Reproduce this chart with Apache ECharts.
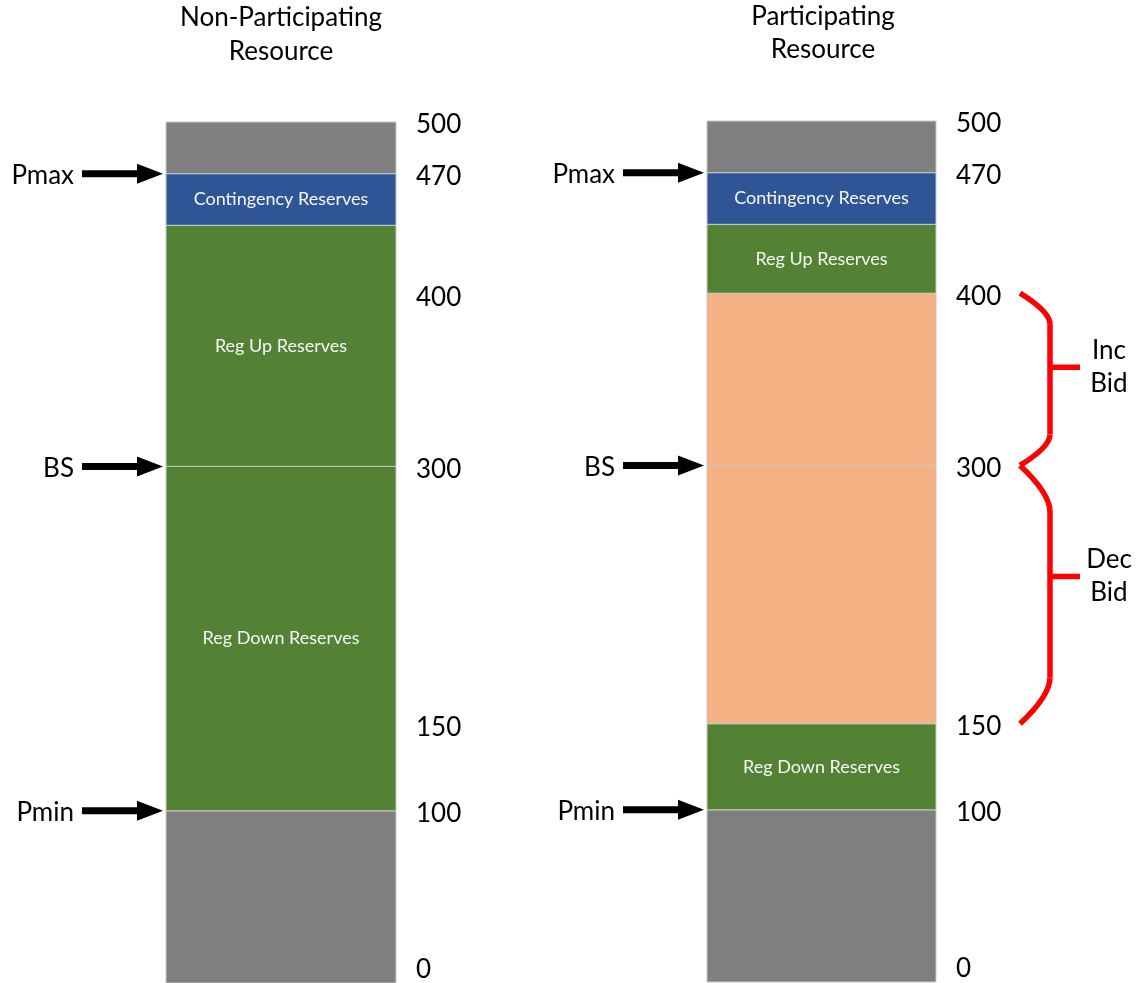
<!DOCTYPE html>
<html>
<head>
<meta charset="utf-8">
<script src="https://cdn.jsdelivr.net/npm/echarts@6/dist/echarts.min.js"></script>
<style>
  html, body { margin: 0; padding: 0; background: #ffffff; }
  #chart { width: 1137px; height: 983px; }
</style>
</head>
<body>
<div id="chart"></div>
<script>
// Resource titles
const resources = ['Non-Participating\nResource', 'Participating\nResource'];

// Operating bands (MW), listed bottom to top: boundaries and band kinds
const nonPartBounds = [0, 100, 300, 440, 470, 500];
const nonPartKinds = ['off', 'regDown', 'regUp', 'contingency', 'off'];
const partBounds = [0, 100, 150, 300, 400, 440, 470, 500];
const partKinds = ['off', 'regDown', 'bid', 'bid', 'regUp', 'contingency', 'off'];

// MW levels written beside each bar
const nonPartTicks = [0, 100, 150, 300, 400, 470, 500];
const partTicks = [0, 100, 150, 300, 400, 470, 500];

// Operating points marked with arrows
const markerNames = ['Pmin', 'BS', 'Pmax'];
const markerValues = [100, 300, 470];

// Bid ranges of the participating resource
const bidNames = ['Dec\nBid', 'Inc\nBid'];
const bidRanges = [[150, 300], [300, 400]];

const FONT = 'Lato, Carlito, "Open Sans", sans-serif';
const bandColors = {
  off: '#7f7f7f', regDown: '#548235', regUp: '#548235',
  contingency: '#2f5597', bid: '#f4b183'
};
const bandLabels = {
  regDown: 'Reg Down Reserves', regUp: 'Reg Up Reserves',
  contingency: 'Contingency Reserves'
};

function bandSeries(idx, bounds, kinds) {
  return {
    type: 'custom', xAxisIndex: idx, yAxisIndex: idx, silent: true,
    data: kinds.map((k, i) => [0, bounds[i], bounds[i + 1]]),
    renderItem(params, api) {
      const lo = api.coord([0, api.value(1)]);
      const hi = api.coord([0, api.value(2)]);
      const bw = api.size([1, 0])[0];
      const kind = kinds[params.dataIndex];
      const children = [{
        type: 'rect',
        shape: { x: lo[0] - bw / 2, y: hi[1], width: bw, height: lo[1] - hi[1] },
        style: { fill: bandColors[kind], stroke: '#c9c9c9', lineWidth: 1 }
      }];
      if (bandLabels[kind]) {
        children.push({
          type: 'text', x: lo[0], y: (lo[1] + hi[1]) / 2,
          style: {
            text: bandLabels[kind], fill: '#f7f7f7', fontSize: 18,
            fontFamily: FONT, align: 'center', verticalAlign: 'middle'
          }
        });
      }
      return { type: 'group', children };
    }
  };
}

function tickSeries(idx, ticks) {
  return {
    type: 'custom', xAxisIndex: idx, yAxisIndex: idx, silent: true,
    data: ticks.map(v => [0, v]),
    renderItem(params, api) {
      const v = api.value(1);
      const p = api.coord([0, v]);
      const bw = api.size([1, 0])[0];
      const atBase = v === 0;
      return {
        type: 'text', x: p[0] + bw / 2 + 20, y: atBase ? p[1] : p[1] + 3,
        style: {
          text: String(v), fill: '#000000', fontSize: 26, fontFamily: FONT,
          align: 'left', verticalAlign: atBase ? 'bottom' : 'middle'
        }
      };
    }
  };
}

function markerSeries(idx) {
  return {
    type: 'custom', xAxisIndex: idx, yAxisIndex: idx, silent: true,
    data: markerValues.map(v => [0, v]),
    renderItem(params, api) {
      const p = api.coord([0, api.value(1)]);
      const bw = api.size([1, 0])[0];
      const xl = p[0] - bw / 2;
      const y = p[1];
      return {
        type: 'group',
        children: [{
          type: 'polygon',
          shape: {
            points: [
              [xl - 84, y - 3.5], [xl - 29, y - 3.5], [xl - 29, y - 10],
              [xl - 3, y], [xl - 29, y + 10], [xl - 29, y + 3.5], [xl - 84, y + 3.5]
            ]
          },
          style: { fill: '#000000' }
        }, {
          type: 'text', x: xl - 92, y: y + 2,
          style: {
            text: markerNames[params.dataIndex], fill: '#000000', fontSize: 26,
            fontFamily: FONT, align: 'right', verticalAlign: 'middle'
          }
        }]
      };
    }
  };
}

function braceSeries(idx) {
  return {
    type: 'custom', xAxisIndex: idx, yAxisIndex: idx, silent: true,
    data: bidRanges.map(r => [0, r[0], r[1]]),
    renderItem(params, api) {
      const bot = api.coord([0, api.value(1)]);
      const top = api.coord([0, api.value(2)]);
      const bw = api.size([1, 0])[0];
      const x0 = bot[0] + bw / 2 + 84;
      const x1 = x0 + 30;
      const yT = top[1], yB = bot[1];
      const c = (yB - yT) * 0.18;
      const yMid = yT + (yB - yT) * 0.43;
      const line = { stroke: '#ff0000', lineWidth: 5.5, fill: null };
      return {
        type: 'group',
        children: [
          { type: 'bezierCurve', shape: { x1: x0, y1: yT, cpx1: x1, cpy1: yT + c * 0.6, x2: x1, y2: yT + c }, style: line },
          { type: 'line', shape: { x1: x1, y1: yT + c, x2: x1, y2: yB - c }, style: line },
          { type: 'bezierCurve', shape: { x1: x1, y1: yB - c, cpx1: x1, cpy1: yB - c * 0.6, x2: x0, y2: yB }, style: line },
          { type: 'line', shape: { x1: x1, y1: yMid, x2: x1 + 30, y2: yMid }, style: line },
          {
            type: 'text', x: x1 + 59, y: yMid,
            style: {
              text: bidNames[params.dataIndex], fill: '#000000', fontSize: 26,
              fontFamily: FONT, align: 'center', verticalAlign: 'middle', lineHeight: 33
            }
          }
        ]
      };
    }
  };
}

const chart = echarts.init(document.getElementById('chart'));
chart.setOption({
  animation: false,
  backgroundColor: '#ffffff',
  title: [
    { text: resources[0], left: 281, top: 1, textAlign: 'center', padding: 0,
      textStyle: { fontSize: 26, lineHeight: 34, fontWeight: 'normal', fontFamily: FONT, color: '#000000' } },
    { text: resources[1], left: 823, top: 0, textAlign: 'center', padding: 0,
      textStyle: { fontSize: 26, lineHeight: 33, fontWeight: 'normal', fontFamily: FONT, color: '#000000' } }
  ],
  grid: [
    { left: 166, top: 122, width: 230, height: 861 },
    { left: 707, top: 121, width: 229, height: 861 }
  ],
  xAxis: [
    { type: 'category', gridIndex: 0, data: [resources[0]], show: false },
    { type: 'category', gridIndex: 1, data: [resources[1]], show: false }
  ],
  yAxis: [
    { type: 'value', gridIndex: 0, min: 0, max: 500, show: false },
    { type: 'value', gridIndex: 1, min: 0, max: 500, show: false }
  ],
  series: [
    bandSeries(0, nonPartBounds, nonPartKinds),
    bandSeries(1, partBounds, partKinds),
    tickSeries(0, nonPartTicks),
    tickSeries(1, partTicks),
    markerSeries(0),
    markerSeries(1),
    braceSeries(1)
  ]
});
</script>
</body>
</html>
